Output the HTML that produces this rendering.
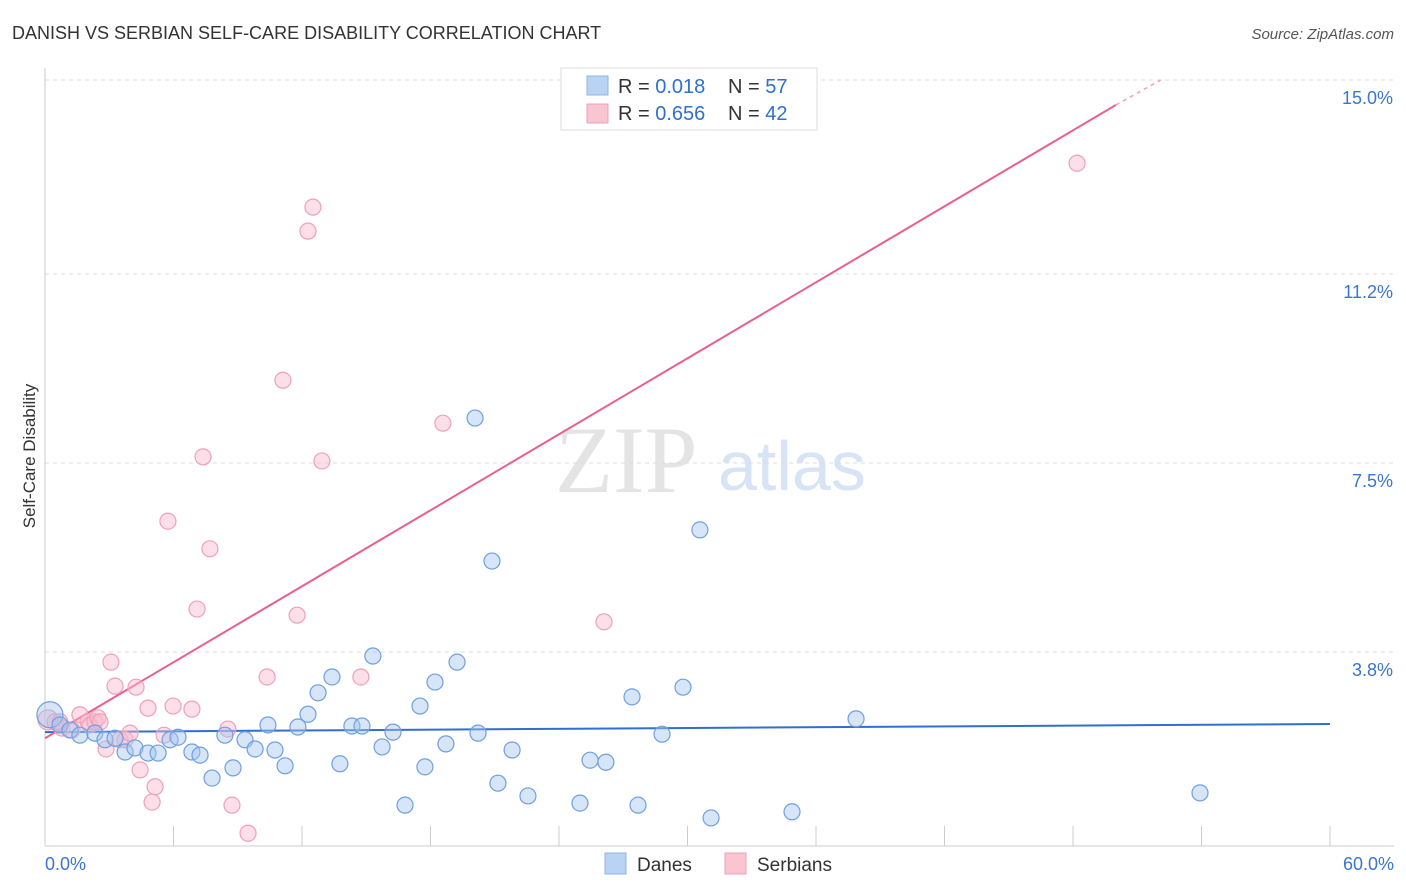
<!DOCTYPE html>
<html><head><meta charset="utf-8"><style>
body{margin:0;background:#fff;font-family:"Liberation Sans",sans-serif;}
svg{display:block}
</style></head><body>
<svg id="chart" width="1406" height="892">
<text x="12" y="39" font-size="18" fill="#333">DANISH VS SERBIAN SELF-CARE DISABILITY CORRELATION CHART</text>
<text x="1394" y="39" font-size="15" fill="#555" font-style="italic" text-anchor="end">Source: ZipAtlas.com</text>
<text x="35" y="456" font-size="17" fill="#333" text-anchor="middle" transform="rotate(-90 35 456)">Self-Care Disability</text>
<text x="555" y="492" font-size="95" fill="#e4e4e4" font-family="Liberation Serif,serif">ZIP</text>
<text x="718" y="490" font-size="70" fill="#d6e4f6">atlas</text>
<g id="grid"></g><g id="axes"></g><g id="lines"></g><g id="pts"></g>
<g>
<rect x="561" y="68" width="256" height="62" fill="#fff" stroke="#ddd"/>
<rect x="587" y="76" width="21" height="19" fill="#b9d3f5" stroke="#8fb4e6"/>
<rect x="587" y="104" width="21" height="19" fill="#f9c5d3" stroke="#f0a0b8"/>
<text x="618" y="93" font-size="20" fill="#333">R = <tspan fill="#2f6fd0">0.018</tspan><tspan x="728">N = </tspan><tspan fill="#2f6fd0">57</tspan></text>
<text x="618" y="120" font-size="20" fill="#333">R = <tspan fill="#2f6fd0">0.656</tspan><tspan x="728">N = </tspan><tspan fill="#2f6fd0">42</tspan></text>
</g>
<g>
<rect x="605" y="853" width="21" height="21" fill="#b9d3f5" stroke="#8fb4e6"/>
<text x="637" y="871" font-size="19" fill="#333">Danes</text>
<rect x="725" y="853" width="21" height="21" fill="#f9c5d3" stroke="#f0a0b8"/>
<text x="757" y="871" font-size="19" fill="#333">Serbians</text>
</g>
</svg>
<script>
const yTicks=[15.0,11.2,7.5,3.8];
const yTickLabels=["15.0%","11.2%","7.5%","3.8%"];
const xTickLabels=["0.0%","60.0%"];
const daneX=[0.23,0.70,1.17,1.63,2.33,2.80,3.27,3.74,4.20,4.81,5.28,5.84,6.21,6.86,7.24,7.80,8.40,8.78,9.34,9.81,10.41,10.74,11.21,11.81,12.28,12.75,13.40,13.77,14.33,14.80,15.31,15.74,16.25,16.81,17.51,17.74,18.21,18.72,19.24,20.08,20.22,20.87,21.15,21.81,22.55,24.98,25.45,26.19,27.41,27.69,28.81,29.79,30.58,31.10,34.88,37.87,53.93];
const daneY=[2.57,2.37,2.27,2.17,2.21,2.08,2.11,1.84,1.92,1.82,1.82,2.08,2.13,1.84,1.78,1.33,2.17,1.53,2.08,1.90,2.37,1.88,1.57,2.33,2.58,3.00,3.31,1.61,2.35,2.35,3.72,1.94,2.23,0.80,2.74,1.55,3.21,2.00,3.60,8.38,2.21,5.58,1.23,1.88,0.98,0.84,1.68,1.64,2.92,0.80,2.19,3.11,6.19,0.55,0.67,2.49,1.04];
const serbX=[0.14,0.47,0.79,1.26,1.63,2.01,2.10,2.33,2.47,2.57,2.85,3.08,3.27,3.50,3.74,3.97,4.25,4.44,4.81,5.00,5.14,5.56,5.74,5.98,6.86,7.10,7.38,7.70,8.54,8.73,9.48,10.37,11.11,11.77,12.28,12.51,12.93,14.75,18.58,26.10,48.19,0.70];
const serbY=[2.47,2.43,2.31,2.27,2.57,2.43,2.37,2.43,2.51,2.43,1.90,3.60,3.13,2.08,2.08,2.21,3.11,1.49,2.70,0.86,1.16,2.17,6.36,2.74,2.68,4.64,7.62,5.82,2.29,0.80,0.25,3.31,9.12,4.52,12.04,12.51,7.54,3.31,8.28,4.39,13.37,2.43];
const daneTrend=[[0,2.23],[60,2.39]];
const serbTrend=[[0,2.11],[50,14.51]];
const serbTrendExt=[[50,14.51],[52.1,15.0]];
const NS="http://www.w3.org/2000/svg";
const xS=v=>45+v/60*1285, yS=v=>846-v/3.75*191.5;
function mk(t,a,p){const e=document.createElementNS(NS,t);for(const k in a)e.setAttribute(k,a[k]);p.appendChild(e);return e;}
const g=document.getElementById('grid'),ax=document.getElementById('axes'),ln=document.getElementById('lines'),pts=document.getElementById('pts');
yTicks.forEach((t,i)=>{
 const l=mk('line',{x1:45,x2:1394,y1:yS(t),y2:yS(t),stroke:'#ddd','stroke-dasharray':'4,4'},g);
 
 
 const tx=mk('text',{x:1393,y:yS(t)+24,'font-size':18,fill:'#3a75d0','text-anchor':'end'},g);
 tx.textContent=yTickLabels[i];
 
 
});
const xa=mk('line',{x1:45,x2:1394,y1:846,y2:846,stroke:'#ccc'},ax);


const ya=mk('line',{x1:45,x2:45,y1:68,y2:846,stroke:'#ccc'},ax);


for(let i=0;i<=10;i++){const t=mk('line',{x1:xS(i*6),x2:xS(i*6),y1:826,y2:846,stroke:'#ccc'},ax);
 
 }
[[0,'start',45],[1,'end',1394]].forEach(([i,a,x])=>{const t=mk('text',{x:x,y:870,'font-size':18,fill:'#3a75d0','text-anchor':a},ax);t.textContent=xTickLabels[i];
 
 });
function pt(x,y,r,f,s,name){const c=mk('circle',{cx:xS(x),cy:yS(y),r:r,fill:f,stroke:s,'stroke-width':1.2},pts);
 
 }
serbX.forEach((x,i)=>pt(x,serbY[i],i==0?10:8,'rgba(248,185,205,0.45)','#f0a0b8','serbian-point'));
daneX.forEach((x,i)=>pt(x,daneY[i],i==0?13:8,'rgba(165,198,240,0.45)','#6f9fe0','dane-point'));
const bl=mk('line',{x1:xS(daneTrend[0][0]),y1:yS(daneTrend[0][1]),x2:xS(daneTrend[1][0]),y2:yS(daneTrend[1][1]),stroke:'#2f6fd0','stroke-width':2},ln);


const pl=mk('line',{x1:xS(serbTrend[0][0]),y1:yS(serbTrend[0][1]),x2:xS(serbTrend[1][0]),y2:yS(serbTrend[1][1]),stroke:'#e8608e','stroke-width':2},ln);


const pe=mk('line',{x1:xS(serbTrendExt[0][0]),y1:yS(serbTrendExt[0][1]),x2:xS(serbTrendExt[1][0]),y2:yS(serbTrendExt[1][1]),stroke:'#f0a0b8','stroke-width':1.5,'stroke-dasharray':'4,4'},ln);


</script>
</body></html>
